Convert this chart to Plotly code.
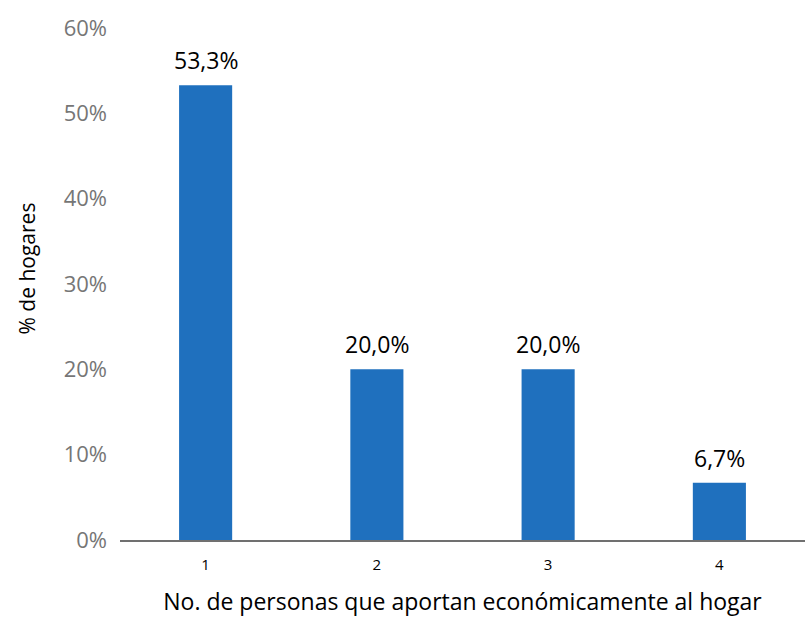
import plotly.graph_objects as go

# Households by number of people contributing income
categories = ["1", "2", "3", "4"]
shares = [0.533, 0.200, 0.200, 0.067]
y_ticks = [0, 0.1, 0.2, 0.3, 0.4, 0.5, 0.6]

font_family = "Open Sans, Liberation Sans, sans-serif"

fig = go.Figure(
    go.Bar(
        x=categories,
        y=shares,
        marker=dict(color="#1F70BE", line=dict(width=0)),
        cliponaxis=False,
    )
)

# Value labels above each bar, comma as decimal separator
for idx, val in enumerate(shares):
    fig.add_annotation(
        x=idx,
        y=val,
        text=f"{val * 100:.1f}%".replace(".", ","),
        showarrow=False,
        yanchor="bottom",
        yshift=7,
        font=dict(size=23, color="#000000", family=font_family),
    )

# Y-axis title placed as a rotated annotation
fig.add_annotation(
    text="% de hogares",
    xref="paper",
    yref="paper",
    x=-0.136,
    y=0.53,
    xanchor="center",
    yanchor="middle",
    textangle=-90,
    showarrow=False,
    font=dict(size=21, color="#000000", family=font_family),
)

fig.update_layout(
    width=807,
    height=622,
    margin=dict(l=120, r=2, t=28, b=82),
    paper_bgcolor="white",
    plot_bgcolor="white",
    bargap=0.69,
    showlegend=False,
    font=dict(family=font_family),
)

fig.update_xaxes(
    type="category",
    showline=True,
    linecolor="#707070",
    linewidth=2,
    showgrid=False,
    ticks="",
    ticklabelstandoff=10,
    tickfont=dict(size=15, color="#000000"),
    title=dict(
        text="No. de personas que aportan económicamente al hogar",
        font=dict(size=23, color="#000000"),
        standoff=21,
    ),
)

fig.update_yaxes(
    range=[0, 0.6],
    tickvals=y_ticks,
    tickformat=".0%",
    showgrid=False,
    zeroline=False,
    showline=False,
    ticks="",
    ticklabelstandoff=12,
    tickfont=dict(size=22, color="#767676"),
)

fig.write_html("out.html")
